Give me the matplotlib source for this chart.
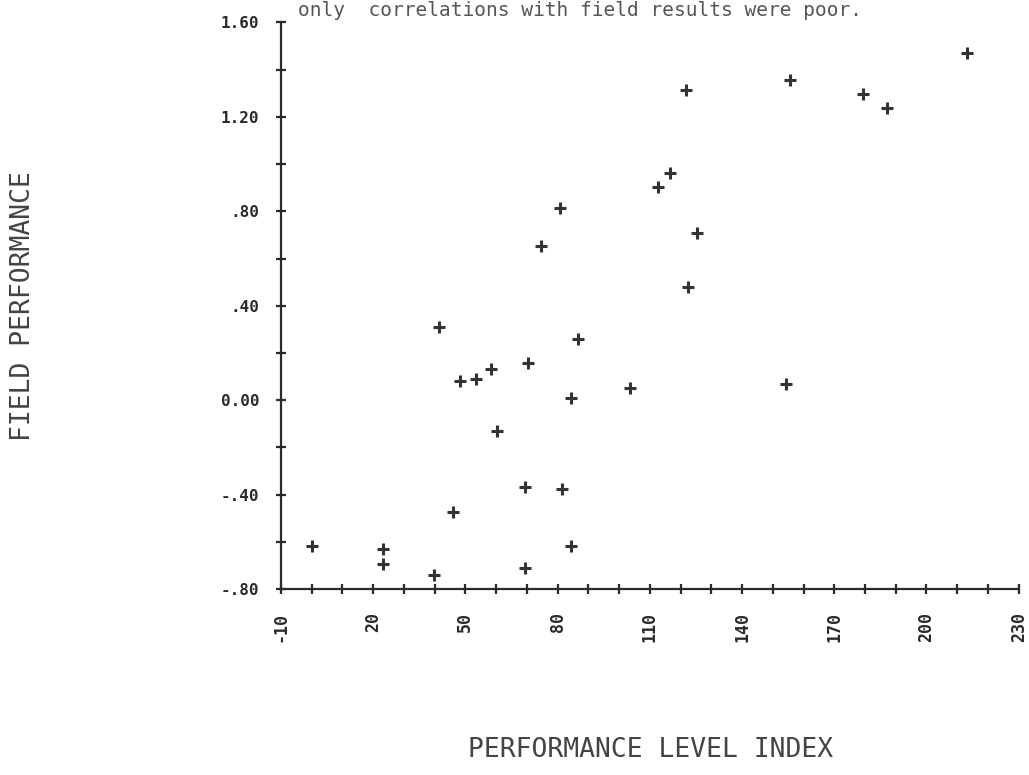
import matplotlib
matplotlib.use("Agg")
import matplotlib.pyplot as plt
from matplotlib.ticker import MultipleLocator, FixedLocator

# ---- data ----
perf_index = [0.0, 23.3, 23.3, 39.8, 41.5, 46.0, 48.3, 53.4, 58.3, 60.3,
              69.3, 69.3, 70.5, 74.5, 81.4, 80.7, 84.3, 84.4, 86.6, 103.5,
              112.7, 116.6, 121.7, 122.4, 125.5, 154.4, 155.5, 179.4, 187.3, 213.2]
field_perf = [-0.616, -0.632, -0.695, -0.742, 0.308, -0.473, 0.081, 0.089, 0.130, -0.129,
              -0.366, -0.713, 0.159, 0.655, -0.378, 0.815, -0.616, 0.010, 0.259, 0.050,
              0.903, 0.962, 1.316, 0.480, 0.708, 0.070, 1.357, 1.297, 1.237, 1.472]

x_tick_vals = [-10, 20, 50, 80, 110, 140, 170, 200, 230]
x_tick_labels = ["-10", "20", "50", "80", "110", "140", "170", "200", "230"]
y_tick_vals = [-0.8, -0.4, 0.0, 0.4, 0.8, 1.2, 1.6]
y_tick_labels = ["-.80", "-.40", "0.00", ".40", ".80", "1.20", "1.60"]

title_text = "only  correlations with field results were poor."
x_label = "PERFORMANCE LEVEL INDEX"
y_label = "FIELD PERFORMANCE"

ink = "#2a2a2a"
mono = ["DejaVu Sans Mono"]

fig = plt.figure(figsize=(10.29, 7.75), dpi=100)
fig.patch.set_facecolor("white")
ax = fig.add_axes([0.273, 0.240, 0.717, 0.731])

ax.plot(perf_index, field_perf, linestyle="none", marker="+",
        markersize=9, markeredgewidth=2.2, color="#333333")

ax.set_xlim(-10, 230)
ax.set_ylim(-0.8, 1.6)

for s in ["top", "right"]:
    ax.spines[s].set_visible(False)
for s in ["left", "bottom"]:
    ax.spines[s].set_color(ink)
    ax.spines[s].set_linewidth(1.6)

ax.xaxis.set_major_locator(FixedLocator(x_tick_vals))
ax.xaxis.set_minor_locator(MultipleLocator(10))
ax.yaxis.set_major_locator(FixedLocator(y_tick_vals))
ax.yaxis.set_minor_locator(MultipleLocator(0.2))
ax.set_xticklabels(x_tick_labels, rotation=90, fontfamily=mono,
                   fontweight="bold", fontsize=12, color=ink)
ax.set_yticklabels(y_tick_labels, fontfamily=mono,
                   fontweight="bold", fontsize=11.5, color=ink)

ax.tick_params(axis="both", which="both", direction="inout", length=7,
               width=1.6, color=ink)
ax.tick_params(axis="x", which="major", pad=13)
ax.tick_params(axis="y", which="major", pad=12)

fig.text(0.632, 0.015, x_label, ha="center", va="bottom",
         fontfamily=mono, fontsize=19, color="#444444")
fig.text(0.022, 0.605, y_label, ha="center", va="center", rotation=90,
         fontfamily=mono, fontsize=19, color="#444444")
fig.text(0.290, 1 - 1 / 775, title_text, ha="left", va="top",
         fontfamily=mono, fontsize=14, color="#555555")

fig.savefig("out.png", dpi=100, facecolor="white")
